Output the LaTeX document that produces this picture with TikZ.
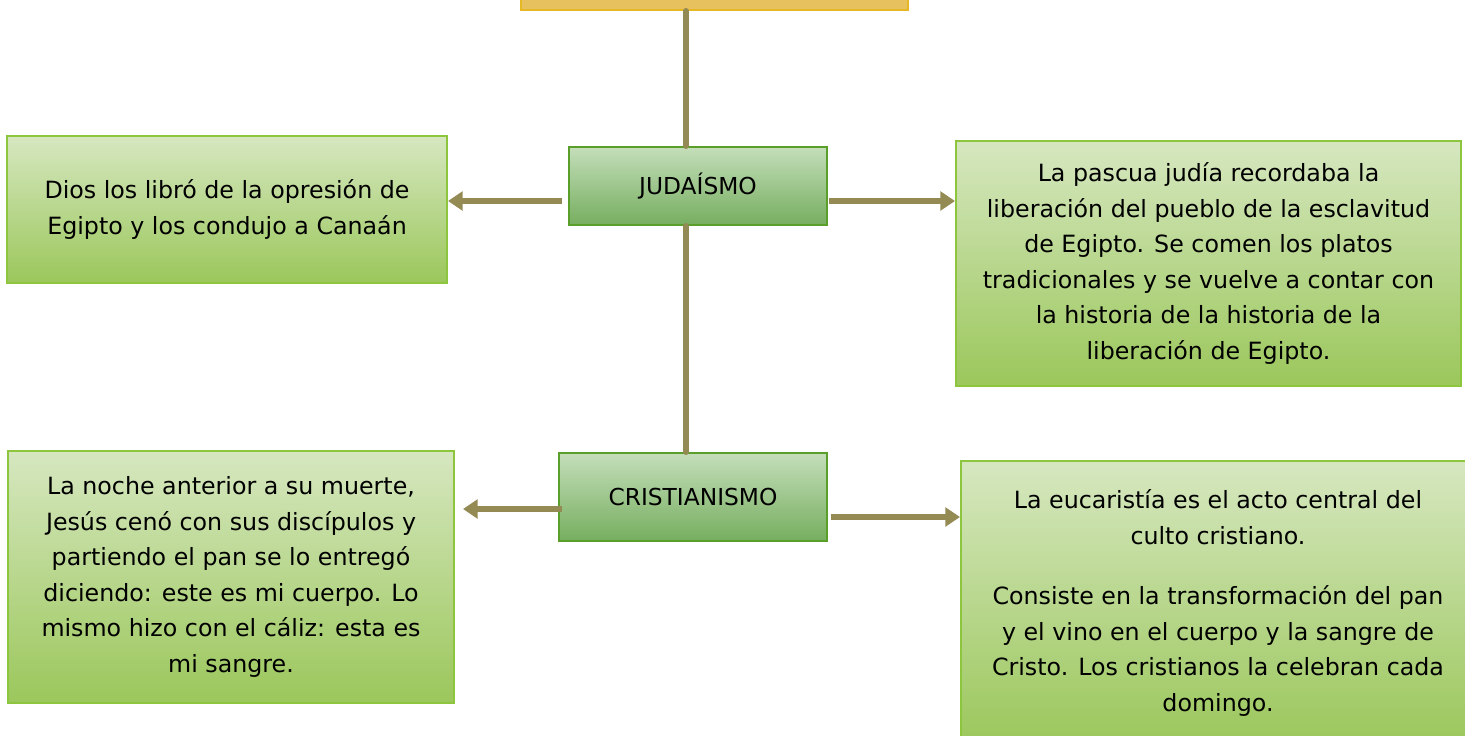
\documentclass[tikz,border=0pt]{standalone}
\usepackage{fontspec}
\setmainfont{DejaVu Sans}
\usetikzlibrary{arrows.meta,calc,positioning}

\definecolor{conncol}{RGB}{148,138,84}
\definecolor{boxtop}{RGB}{214,231,192}
\definecolor{boxbot}{RGB}{155,199,91}
\definecolor{boxline}{RGB}{141,197,62}
\definecolor{maintop}{RGB}{196,222,186}
\definecolor{mainbot}{RGB}{118,174,95}
\definecolor{mainline}{RGB}{90,159,42}
\definecolor{yelfill}{RGB}{232,193,95}
\definecolor{yelline}{RGB}{230,184,38}

\begin{document}
\begin{tikzpicture}[x=0.75pt,y=0.75pt,yscale=-1,xscale=1,
  txtbox/.style={draw=boxline,line width=1.5pt,top color=boxtop,bottom color=boxbot,
    inner sep=0pt,align=center,font=\fontsize{17.8}{26.6}\selectfont},
  mainbox/.style={draw=mainline,line width=1.5pt,top color=maintop,bottom color=mainbot,
    inner sep=0pt,align=center,font=\fontsize{17.5}{20}\selectfont},
  link/.style={draw=conncol,line width=4.5pt,line cap=round},
  conn/.style={draw=conncol,line width=4.5pt,-{Triangle[length=11pt,width=14pt]}}]
\useasboundingbox (0,0) rectangle (1465,736);

%Shape: Rectangle (top, cut off)
\node (top) [draw=yelline,line width=1.5pt,fill=yelfill,minimum width=290.25pt,minimum height=52.5pt] at (714.5,-25) {};

%Shape: Rectangle
\node (jud) [mainbox,minimum width=193.5pt,minimum height=58.5pt] at (698,186) {JUDAÍSMO};
%Shape: Rectangle
\node (cris) [mainbox,minimum width=201pt,minimum height=66pt] at (693,497) {CRISTIANISMO};

% Text Node
\node (dios) [txtbox,minimum width=330pt,minimum height=110.25pt] at (227,209.5)
  {Dios los libró de la opresión de\\Egipto y los condujo a Canaán};
% Text Node
\node (pascua) [txtbox,minimum width=378.75pt,minimum height=183.75pt] at (1208.5,263.5)
  {La pascua judía recordaba la\\liberación del pueblo de la esclavitud\\de Egipto. Se comen los platos\\tradicionales y se vuelve a contar con\\la historia de la historia de la\\liberación de Egipto.};
% Text Node
\node (noche) [txtbox,minimum width=334.5pt,minimum height=189pt] at (231,577)
  {La noche anterior a su muerte,\\Jesús cenó con sus discípulos y\\partiendo el pan se lo entregó\\diciendo: este es mi cuerpo. Lo\\mismo hizo con el cáliz: esta es\\mi sangre.};
% Text Node
\node (euca) [txtbox,minimum width=385.5pt,minimum height=213pt] at (1218,603)
  {La eucaristía es el acto central del\\culto cristiano.\\[19pt]Consiste en la transformación del pan\\y el vino en el cuerpo y la sangre de\\Cristo. Los cristianos la celebran cada\\domingo.};

% Connectors
\draw[link] ($(jud.north)+(-12,0)$) coordinate (t1) -- (t1 |- top.south);
\draw[link] ($(jud.south)+(-12,0)$) coordinate (t2) -- (t2 |- cris.north);
\draw[conn] ($(jud.west)+(-6,15)$) coordinate (a1) -- (a1 -| dios.east);
\draw[conn] ($(jud.east)+(1,15)$) coordinate (a2) -- (a2 -| pascua.west);
\draw[conn] ($(cris.west)+(4,12)$) coordinate (a3) -- ($(a3 -| noche.east)+(8,0)$);
\draw[conn] ($(cris.east)+(3,20)$) coordinate (a4) -- (a4 -| euca.west);

\end{tikzpicture}
\end{document}
